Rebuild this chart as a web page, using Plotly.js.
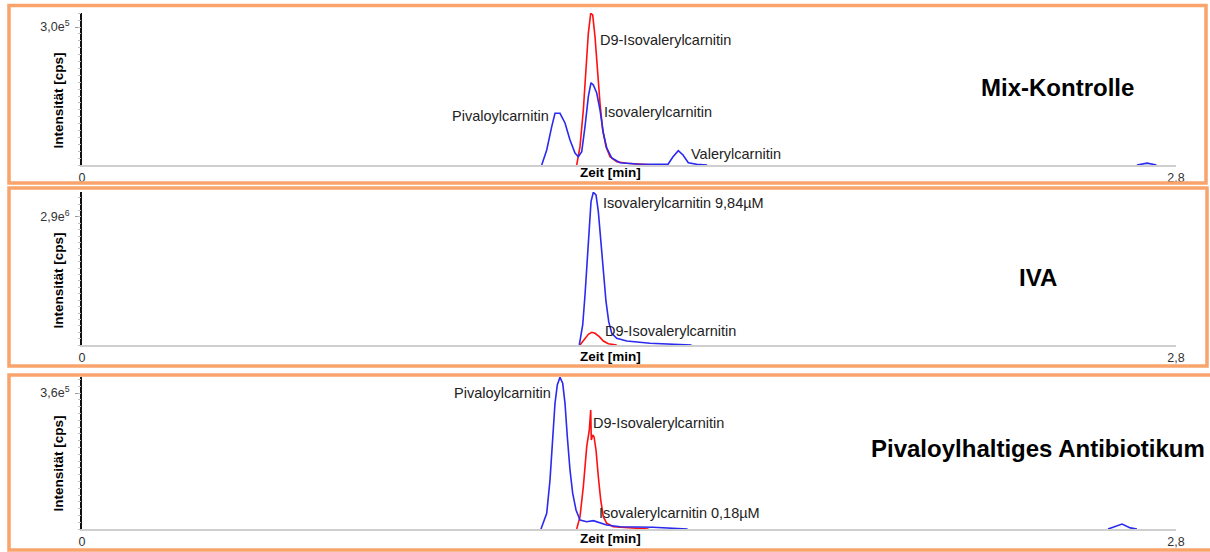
<!DOCTYPE html>
<html>
<head>
<meta charset="utf-8">
<script src="https://cdn.plot.ly/plotly-3.0.1.min.js"></script>
<style>html,body{margin:0;padding:0;background:#fff;}#chart{width:1210px;height:552px;}</style>
</head>
<body>
<div id="chart"></div>
<script>
// ---------- Data ----------
// Panel 1: Mix-Kontrolle  (null = gap between visible signal segments)
const mixBlueTime = [1.1766, 1.1894, 1.2022, 1.2106, 1.2234, 1.2362, 1.2490, 1.2618, 1.2703, 1.2790, 1.2874, 1.2959, 1.3028, 1.3087, 1.3174, 1.3258, 1.3343, 1.3430, 1.3558, 1.3770, 1.4198, 1.4615, 1.4999, 1.5127, 1.5262, 1.5382, 1.5518, 1.5733, 1.60, 1.65, 2.70, 2.726, 2.75];
const mixBlue     = [0, 32600, 83300, 112400, 112400, 91300, 54300, 26100, 18000, 28900, 83300, 148500, 178900, 173900, 156500, 119600, 69600, 37000, 15200, 5000, 2200, 1500, 1500, 18000, 31100, 21700, 5000, 1500, 0, null, 0, 4000, 0];
const mixRedTime  = [1.2662, 1.2746, 1.2831, 1.2900, 1.2959, 1.3020, 1.3071, 1.3130, 1.3189, 1.3258, 1.3327, 1.3412, 1.3514, 1.3686, 1.3942, 1.4282, 1.46];
const mixRed      = [0, 39800, 119600, 213700, 286300, 329800, 326100, 278900, 206500, 134100, 76100, 39800, 18000, 7200, 3700, 1500, 0];

// Panel 2: IVA
const ivaBlueTime = [1.2728, 1.2815, 1.2874, 1.2933, 1.2984, 1.3028, 1.3087, 1.3156, 1.3215, 1.3276, 1.3343, 1.3412, 1.3481, 1.3558, 1.3686, 1.3942, 1.4538, 1.5134, 1.56];
const ivaBlue     = [0, 453100, 1132800, 1964300, 2718700, 3246600, 3459600, 3398400, 3020000, 2340400, 1585900, 981000, 527900, 265100, 151800, 90600, 38500, 15900, 0];
const ivaRedTime  = [1.2746, 1.2874, 1.2959, 1.3046, 1.3130, 1.3240, 1.3343, 1.3471, 1.3686];
const ivaRed      = [0, 151800, 242400, 287700, 265100, 188000, 90600, 29500, 0];

// Panel 3: Pivaloylhaltiges Antibiotikum
const pivBlueTime = [1.1747, 1.1894, 1.1978, 1.2047, 1.2106, 1.2165, 1.2234, 1.2303, 1.2362, 1.2421, 1.2490, 1.2559, 1.2644, 1.2746, 1.2918, 1.3087, 1.3258, 1.3430, 1.3770, 1.4615, 1.55, 1.60, 2.626, 2.662, 2.683, 2.70];
const pivBlue     = [0, 41600, 129700, 244300, 332700, 381200, 401500, 385700, 332700, 244300, 156200, 94500, 50300, 23800, 19300, 22000, 16700, 10600, 6100, 4500, 0, null, 0, 13000, 3000, 0];
const pivRedTime  = [1.2662, 1.2746, 1.2831, 1.2918, 1.2984, 1.3020, 1.3035, 1.3071, 1.3105, 1.3156, 1.3215, 1.3276, 1.3343, 1.3430, 1.3599, 1.3942, 1.45];
const pivRed      = [0, 32600, 112000, 217900, 262100, 315000, 235600, 248800, 244300, 209100, 138400, 76800, 32600, 15100, 6100, 3400, 0];

// Axis tick labels
const xTickVals = [0, 2.8];
const xTickText = ['0', '2,8'];
const yTopVals  = [3.0e5, 2.9e6, 3.6e5];
const yTopText  = ['3,0e<sup>5</sup>', '2,9e<sup>6</sup>', '3,6e<sup>5</sup>'];
const yMaxVals  = [330435, 3466000, 402353];
const yMinorStep = [15000, 145000, 18000];

// Labels
const panelTitles = ['Mix-Kontrolle', 'IVA', 'Pivaloylhaltiges Antibiotikum'];
const xTitle = 'Zeit [min]';
const yTitle = 'Intensität [cps]';

// ---------- Layout helpers (pixel -> paper) ----------
const W = 1210, H = 552;
const px = v => v / W;
const py = v => 1 - v / H;

const BLUE = '#2a2af0', RED = '#ff1010', ORANGE = '#f9a46c';
const FONT = '"Liberation Sans", Arial, sans-serif';

function line(x, y, color, xa, ya) {
  return {x: x, y: y, type: 'scatter', mode: 'lines', xaxis: xa, yaxis: ya,
          line: {color: color, width: 1.6}, hoverinfo: 'skip', connectgaps: false};
}

const data = [
  line(mixRedTime, mixRed, RED, 'x', 'y'),
  line(mixBlueTime, mixBlue, BLUE, 'x', 'y'),
  line(ivaRedTime, ivaRed, RED, 'x2', 'y2'),
  line(ivaBlueTime, ivaBlue, BLUE, 'x2', 'y2'),
  line(pivRedTime, pivRed, RED, 'x3', 'y3'),
  line(pivBlueTime, pivBlue, BLUE, 'x3', 'y3'),
  // empty traces to host the minor-tick overlay axes
  {x: [], y: [], type: 'scatter', xaxis: 'x', yaxis: 'y4'},
  {x: [], y: [], type: 'scatter', xaxis: 'x2', yaxis: 'y5'},
  {x: [], y: [], type: 'scatter', xaxis: 'x3', yaxis: 'y6'},
];

// panel geometry in pixels: [axis top, baseline]
const panelPix = [[13, 165], [192, 345], [377, 529]];
const xDomain = [px(82), px(1176)];

function xaxis(anchor) {
  return {domain: xDomain, range: [0, 2.8], anchor: anchor,
          showgrid: false, zeroline: false, showline: true, linecolor: '#cfcfcf', linewidth: 1.5,
          tickmode: 'array', tickvals: xTickVals, ticktext: xTickText, ticks: '',
          tickfont: {family: FONT, size: 12.5, color: '#333'}, fixedrange: true};
}
function yaxis(i, anchor) {
  return {domain: [py(panelPix[i][1]), py(panelPix[i][0])], range: [0, yMaxVals[i]], anchor: anchor,
          showgrid: false, zeroline: false, showline: true, linecolor: '#111', linewidth: 2,
          tickmode: 'array', tickvals: [yTopVals[i]], ticktext: [yTopText[i]],
          ticks: 'outside', ticklen: 5, tickcolor: '#999', tickwidth: 1,
          ticklabelstandoff: 3,
          tickfont: {family: FONT, size: 12.5, color: '#333'}, fixedrange: true};
}
function yminor(i, anchor, over) {
  return {domain: [py(panelPix[i][1]), py(panelPix[i][0])], range: [0, yMaxVals[i]], anchor: anchor,
          overlaying: over, side: 'left',
          showgrid: false, zeroline: false, showline: false, showticklabels: false,
          tickmode: 'linear', tick0: 0, dtick: yMinorStep[i],
          ticks: 'outside', ticklen: 3, tickcolor: '#bdbdbd', tickwidth: 1, fixedrange: true};
}

const shapes = [
  [9, 5.5, 1206, 183],
  [9, 188, 1207, 366],
  [9, 375, 1220, 550],
].map(b => ({type: 'rect', xref: 'paper', yref: 'paper',
  x0: px(b[0]), x1: px(b[2]), y0: py(b[3]), y1: py(b[1]),
  line: {color: ORANGE, width: 3.5}, fillcolor: 'rgba(0,0,0,0)'}));

function txt(text, x, y, anchor, size, bold, extra) {
  return Object.assign({xref: 'paper', yref: 'paper', x: px(x), y: py(y), xanchor: anchor, yanchor: 'middle',
    text: bold ? '<b>' + text + '</b>' : text, showarrow: false,
    font: {family: FONT, size: size, color: bold ? '#000' : '#222'}}, extra || {});
}

const annotations = [
  // panel titles
  txt(panelTitles[0], 1057.5, 87, 'center', 24, true),
  txt(panelTitles[1], 1038, 277, 'center', 24, true),
  txt(panelTitles[2], 1037.5, 448, 'center', 24, true),
  // axis titles
  txt(yTitle, 57.5, 101, 'center', 13.5, true, {textangle: -90}),
  txt(yTitle, 57.5, 281, 'center', 13.5, true, {textangle: -90}),
  txt(yTitle, 57.5, 464, 'center', 13.5, true, {textangle: -90}),
  txt(xTitle, 610.5, 172, 'center', 13.5, true),
  txt(xTitle, 610.5, 356.5, 'center', 13.5, true),
  txt(xTitle, 610.5, 538, 'center', 13.5, true),
  // peak labels panel 1
  txt('D9-Isovalerylcarnitin', 598, 40, 'left', 14.5, false),
  txt('Isovalerylcarnitin', 602, 112, 'left', 14.5, false),
  txt('Pivaloylcarnitin', 551, 116, 'right', 14.5, false),
  txt('Valerylcarnitin', 689, 154, 'left', 14.5, false),
  // panel 2
  txt('Isovalerylcarnitin 9,84µM', 601, 203, 'left', 14.5, false),
  txt('D9-Isovalerylcarnitin', 603, 330.5, 'left', 14.5, false),
  // panel 3
  txt('Pivaloylcarnitin', 553, 393, 'right', 14.5, false),
  txt('D9-Isovalerylcarnitin', 590.5, 423, 'left', 14.5, false),
  txt('Isovalerylcarnitin 0,18µM', 597, 513, 'left', 14.5, false),
];

const layout = {
  width: W, height: H, margin: {l: 0, r: 0, t: 0, b: 0},
  paper_bgcolor: '#fff', plot_bgcolor: 'rgba(0,0,0,0)', showlegend: false, hovermode: false,
  font: {family: FONT},
  xaxis: xaxis('y'), xaxis2: xaxis('y2'), xaxis3: xaxis('y3'),
  yaxis: yaxis(0, 'x'), yaxis2: yaxis(1, 'x2'), yaxis3: yaxis(2, 'x3'),
  yaxis4: yminor(0, 'x', 'y'), yaxis5: yminor(1, 'x2', 'y2'), yaxis6: yminor(2, 'x3', 'y3'),
  shapes: shapes, annotations: annotations,
};

Plotly.newPlot('chart', data, layout, {staticPlot: true, displayModeBar: false});
</script>
</body>
</html>
